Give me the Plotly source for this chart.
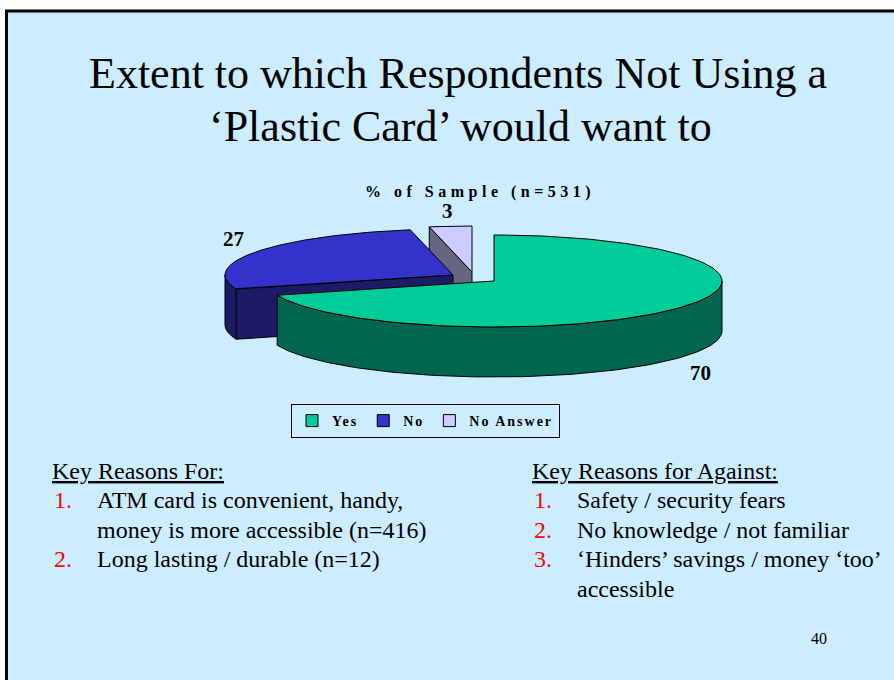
import numpy as np
import plotly.graph_objects as go

# ---------------- data ----------------
categories = ["Yes", "No", "No Answer"]
values = [70, 27, 3]
chart_title = "% of Sample (n=531)"
slide_title = ["Extent to which Respondents Not Using a", "\u2018Plastic Card\u2019 would want to"]
for_heading = "Key Reasons For:"
for_items = [["ATM card is convenient, handy,", "money is more accessible (n=416)"],
             ["Long lasting / durable (n=12)"]]
against_heading = "Key Reasons for Against:"
against_items = [["Safety / security fears"],
                 ["No knowledge / not familiar"],
                 ["\u2018Hinders\u2019 savings / money \u2018too\u2019", "accessible"]]
page_number = "40"

# ---------------- style ----------------
W, H = 894, 680
BG = "#CCECFF"
SERIF = "Liberation Serif"
top_colors = {"Yes": "#00CC99", "No": "#3333CC", "No Answer": "#CCCCFF"}
side_colors = {"Yes": "#006650", "No": "#1C1C66", "No Answer": "#666680"}
CX, CY, RX, RY, DEPTH = 494, 281, 228, 46, 50
explode = {"Yes": (0, 0), "No": (-41, -6), "No Answer": (-22, -9)}

fig = go.Figure()

# slide background
fig.add_shape(type="rect", x0=6.5, y0=11, x1=W + 10, y1=H + 10, xref="x", yref="y",
              fillcolor=BG, line=dict(color="black", width=3), layer="below")

total = float(sum(values))
bounds = np.concatenate([[0], np.cumsum(values)]) / total * 360.0


def pts(th_deg, off, z=0.0):
    th = np.radians(th_deg)
    return CX + off[0] + RX * np.sin(th), CY + off[1] - RY * np.cos(th) + z


def poly(xs, ys, fill, name):
    fig.add_trace(go.Scatter(x=xs, y=ys, mode="lines", fill="toself", fillcolor=fill,
                             line=dict(color="black", width=1), hoverinfo="skip",
                             showlegend=False, name=name))


slices = []
for i, c in enumerate(categories):
    t1, t2 = bounds[i], bounds[i + 1]
    mid = (t1 + t2) / 2
    slices.append((np.cos(np.radians(mid)), i, c, t1, t2, mid))
slices.sort(key=lambda s: -s[0])  # back slices first

for _, i, c, t1, t2, mid in slices:
    off = explode[c]
    ax, ay = CX + off[0], CY + off[1]
    # radial faces
    if np.sin(np.radians(t1)) < -1e-9:
        ex, ey = pts(t1, off)
        poly([ax, ex, ex, ax, ax], [ay, ey, ey + DEPTH, ay + DEPTH, ay], side_colors[c], c)
    if np.sin(np.radians(t2)) > 1e-9:
        ex, ey = pts(t2, off)
        poly([ax, ex, ex, ax, ax], [ay, ey, ey + DEPTH, ay + DEPTH, ay], side_colors[c], c)
    # outer wall
    a, b = max(t1, 90), min(t2, 270)
    if a < b:
        th = np.linspace(a, b, 120)
        xt, yt = pts(th, off)
        xb, yb = pts(th[::-1], off, DEPTH)
        poly(np.concatenate([xt, xb, xt[:1]]), np.concatenate([yt, yb, yt[:1]]), side_colors[c], c)
    # top face
    th = np.linspace(t1, t2, 160)
    xt, yt = pts(th, off)
    poly(np.concatenate([[ax], xt, [ax]]), np.concatenate([[ay], yt, [ay]]), top_colors[c], c)

# legend entries
for rank, c in enumerate(categories):
    fig.add_trace(go.Scatter(x=[None], y=[None], mode="markers",
                             name=f"<span style='letter-spacing:2px'>{c}</span>",
                             marker=dict(symbol="square", size=12, color=top_colors[c],
                                         line=dict(color="black", width=1)),
                             legendrank=rank + 1, showlegend=True))

# data labels
for i, c in enumerate(categories):
    t1, t2 = bounds[i], bounds[i + 1]
    mid = (t1 + t2) / 2
    off = explode[c]
    k = 1.12
    lx = CX + off[0] + k * RX * np.sin(np.radians(mid))
    ly = CY + off[1] - k * RY * np.cos(np.radians(mid))
    if np.cos(np.radians(mid)) < 0:
        ly += DEPTH + 12
    else:
        ly -= 10
    fig.add_annotation(x=lx, y=ly, xref="x", yref="y", text=f"<b>{values[i]}</b>", showarrow=False,
                       font=dict(family=SERIF, size=21, color="black"))


def text_at(x, baseline, text, size, anchor="left", color="black"):
    fig.add_annotation(x=x, y=baseline - 0.34 * size, xref="x", yref="y", text=text, showarrow=False,
                       xanchor=anchor, yanchor="middle", font=dict(family=SERIF, size=size, color=color))


# chart title
text_at(480, 197, f"<b><span style='letter-spacing:4.5px'>{chart_title}</span></b>", 16, "center")

# slide title
text_at(458, 88, slide_title[0], 44, "center")
text_at(460, 141, slide_title[1], 44, "center")

LINE = 29.5
BODY = 24
# left column
text_at(50, 479, f"<u>{for_heading}</u>", BODY)
bl = 479 + LINE
for n, item in enumerate(for_items):
    text_at(52, bl, f"{n + 1}.", BODY, color="#FF0000")
    for line in item:
        text_at(95, bl, line, BODY)
        bl += LINE
# right column
text_at(530, 479, f"<u>{against_heading}</u>", BODY)
bl = 479 + LINE
for n, item in enumerate(against_items):
    text_at(532, bl, f"{n + 1}.", BODY, color="#FF0000")
    for line in item:
        text_at(575, bl, line, BODY)
        bl += LINE

text_at(819, 644, page_number, 16, "center")

fig.update_layout(
    width=W, height=H, margin=dict(l=0, r=0, t=0, b=0),
    paper_bgcolor="white", plot_bgcolor="rgba(0,0,0,0)",
    xaxis=dict(range=[0, W], visible=False, fixedrange=True),
    yaxis=dict(range=[H, 0], visible=False, fixedrange=True),
    showlegend=True,
    legend=dict(orientation="h", x=425.5 / W, xanchor="center", y=1 - 421 / H, yanchor="middle",
                bgcolor="rgba(0,0,0,0)", bordercolor="black", borderwidth=1,
                font=dict(family=SERIF, size=14, color="black", weight="bold"),
                itemwidth=30, tracegroupgap=0),
    hovermode=False,
)

fig.write_html("out.html", config={"displayModeBar": False},
               post_script="document.body.style.margin='0';document.body.style.overflow='hidden';")
